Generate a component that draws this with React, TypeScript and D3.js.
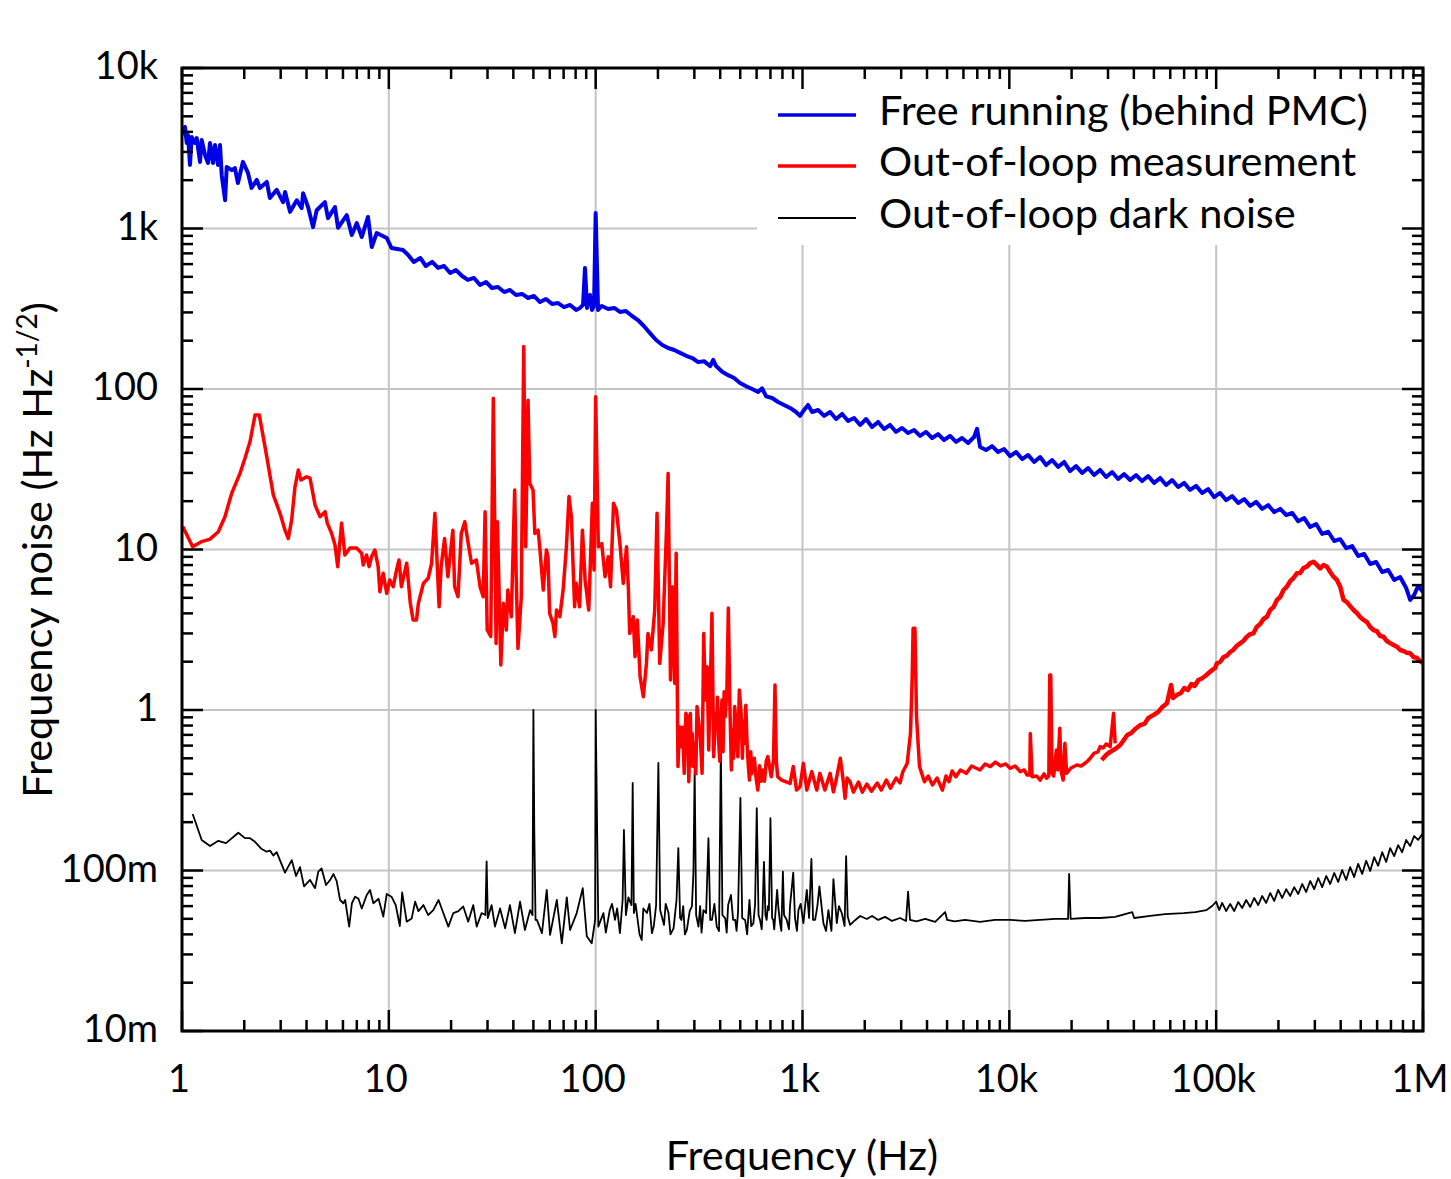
import React from 'react';
import * as d3 from 'd3';

type P = [number, number];

const xTickValues = [1, 10, 100, 1e3, 1e4, 1e5, 1e6];
const xTickLabels = ['1', '10', '100', '1k', '10k', '100k', '1M'];
const yTickValues = [0.01, 0.1, 1, 10, 100, 1e3, 1e4];
const yTickLabels = ['10m', '100m', '1', '10', '100', '1k', '10k'];
const legendLabels = ['Free running (behind PMC)', 'Out-of-loop measurement', 'Out-of-loop dark noise'];
const seriesColors = ['#0000e6', '#ff0000', '#000000'];

const freeRunning: P[] = [
  [1.0, 3830], [1.034, 4290], [1.054, 3410], [1.069, 3830], [1.093, 2490], [1.114, 3720], [1.156, 3410], [1.178, 3660],
  [1.222, 2600], [1.245, 3560], [1.292, 2870], [1.336, 2560], [1.366, 3410], [1.412, 2560], [1.444, 3310], [1.493, 2490],
  [1.527, 3310], [1.556, 2150], [1.616, 1500], [1.645, 2420], [1.739, 2310], [1.802, 2380], [1.864, 1920], [1.97, 2600],
  [2.085, 2220], [2.17, 1790], [2.3, 2010], [2.38, 1790], [2.57, 1950], [2.66, 1550], [2.87, 1740], [3.08, 1460],
  [3.15, 1690], [3.33, 1270], [3.59, 1500], [3.79, 1340], [3.85, 1660], [4.07, 1360], [4.3, 1020], [4.48, 1300],
  [4.91, 1460], [5.08, 1160], [5.49, 1360], [5.68, 1010], [6.26, 1210], [6.62, 911], [7.0, 1080], [7.4, 885],
  [7.93, 1180], [8.27, 767], [8.74, 937], [9.77, 873], [10.3, 756], [11.7, 735], [12.4, 684],
  [13.2, 619], [14.2, 655], [15.1, 584], [16.2, 619], [17.3, 568], [18.5, 584], [19.8, 528], [21.1, 551],
  [22.6, 506], [24.1, 478], [25.8, 492], [27.6, 445], [29.5, 464], [31.5, 426], [33.7, 432], [36.1, 402],
  [38.5, 414], [41.2, 385], [44.1, 391], [47.1, 369], [50.3, 380], [53.8, 348], [57.5, 364], [61.5, 339],
  [65.8, 343], [70.3, 324], [75.2, 334], [80.4, 311], [84.0, 320], [86.9, 334], [88.8, 568], [90.8, 320],
  [93.9, 385], [96.0, 311], [98.2, 329], [100, 1249], [102.7, 311], [107, 329], [115, 315], [123, 320],
  [131, 302], [140, 306], [150, 285], [160, 269], [171, 247], [183, 223], [196, 202], [210, 188],
  [224, 180], [240, 175], [256, 168], [274, 161], [293, 156], [313, 147], [334, 149], [358, 139],
  [370, 152], [382, 139], [409, 128], [437, 122], [467, 117], [499, 109], [534, 104], [571, 100],
  [610, 95.8], [638, 101], [667, 89.9], [713, 87.9], [762, 83.0], [814, 79.5], [871, 76.2], [931, 71.9],
  [973, 68.0], [1018, 74.0], [1064, 79.5], [1113, 71.9], [1190, 74.0], [1272, 68.0], [1360, 71.9], [1454, 65.0],
  [1554, 69.9], [1661, 63.2], [1776, 66.0], [1899, 59.7], [2030, 65.0], [2170, 58.0], [2320, 62.3], [2480, 56.3],
  [2651, 59.7], [2834, 54.0], [3030, 57.2], [3239, 53.2], [3463, 55.5], [3702, 51.0], [3958, 54.0], [4231, 49.5],
  [4523, 52.4], [4836, 48.1], [5170, 51.0], [5527, 46.8], [5908, 49.5], [6316, 46.1], [6753, 50.2], [6983, 56.5],
  [7220, 43.5], [7718, 41.7], [8251, 44.1], [8821, 40.5], [9430, 42.3], [10090, 38.2], [10790, 40.5], [11530, 36.6],
  [12330, 38.8], [13180, 35.1], [14090, 37.7], [15060, 33.6], [16100, 36.1], [17220, 32.7], [18410, 35.1], [19680, 30.8],
  [21040, 33.1], [22490, 30.0], [24040, 32.2], [25700, 29.1], [27480, 31.3], [29380, 28.3], [31410, 30.4], [33580, 27.5],
  [35900, 29.5], [38380, 27.1], [41030, 29.1], [43860, 26.7], [46890, 28.7], [50130, 26.0], [53600, 27.9], [57300, 25.2],
  [61260, 27.1], [65490, 24.5], [70010, 26.0], [74850, 23.5], [80020, 24.9], [85550, 22.5], [91460, 23.8], [97770, 21.2],
  [104500, 22.5], [111800, 20.3], [119500, 21.5], [127800, 19.5], [136600, 20.6], [146100, 18.7], [156100, 19.8], [166900, 17.9],
  [178500, 18.9], [190800, 17.1], [204000, 17.9], [218100, 16.4], [233200, 16.9], [249300, 15.0], [266500, 15.7], [284900, 13.8],
  [304500, 14.4], [325600, 12.5], [348100, 12.9], [372100, 11.3], [397800, 11.6], [425200, 10.2], [454600, 10.5], [486000, 9.11],
  [519600, 9.38], [555500, 8.12], [593700, 8.36], [634800, 7.24], [678600, 7.45], [725500, 6.46], [775600, 6.74], [829000, 5.76],
  [866700, 4.85], [906000, 5.21], [947000, 5.92], [1000000, 5.44],
];

const outOfLoopLow: P[] = [
  [1.008, 13.9], [1.126, 10.4], [1.245, 11.2], [1.366, 11.6], [1.498, 12.9], [1.613, 16.0], [1.739, 22.4], [1.907, 29.8],
  [2.016, 37.0], [2.132, 46.9], [2.254, 68.8], [2.365, 68.8], [2.569, 37.9], [2.763, 21.9], [2.978, 16.8], [3.148, 13.2],
  [3.266, 11.7], [3.39, 15.3], [3.518, 24.6], [3.65, 31.3], [3.76, 27.1], [4.0, 28.4], [4.16, 27.8], [4.4, 18.9],
  [4.65, 16.0], [4.92, 17.2], [5.04, 14.6], [5.29, 12.6], [5.49, 10.7], [5.66, 7.82], [5.91, 14.6], [6.13, 9.24],
  [6.48, 10.2], [6.99, 10.2], [7.39, 9.48], [7.52, 8.01], [7.8, 9.24], [8.03, 7.82], [8.25, 9.0], [8.56, 9.93],
  [8.88, 7.82], [9.05, 5.46], [9.39, 7.11], [9.77, 5.33], [10.1, 6.46], [10.5, 5.87], [10.9, 7.45], [11.2, 8.6],
  [11.5, 5.87], [12.2, 8.21], [12.7, 4.63], [13.1, 3.64], [13.6, 3.64], [13.9, 4.63], [14.7, 6.16], [15.5, 6.62],
  [16.1, 8.21], [16.7, 16.8], [17.5, 4.4], [17.9, 7.82], [18.6, 11.7], [19.3, 6.77], [20.4, 13.2], [20.8, 5.87],
  [21.6, 5.08], [22.4, 12.6], [23.3, 14.9], [24.2, 10.9], [25.1, 8.21], [26.5, 8.6], [27.6, 5.87], [28.6, 5.08],
  [29.2, 17.2], [29.9, 3.15], [31.1, 2.87], [32.0, 87.6], [33.0, 2.6], [33.5, 14.9], [34.8, 1.91], [35.8, 4.63],
  [37.0, 3.15], [37.6, 5.59], [39.1, 3.81], [40.6, 23.5], [41.3, 6.77], [42.1, 2.42], [43.7, 5.08], [44.9, 184],
  [45.9, 10.4], [47.1, 85.1], [48.0, 25.9], [49.8, 23.5], [50.8, 12.6], [52.7, 13.2], [53.8, 9.93], [55.8, 5.59],
  [57.8, 9.93], [58.8, 9.0], [59.9, 4.0], [62.2, 3.47], [63.5, 2.87], [64.7, 4.2], [67.1, 3.81], [69.6, 5.59],
  [72.2, 10.4], [74.3, 21.4], [76.3, 16.0], [77.6, 8.6], [79.1, 4.4], [80.6, 6.16], [83.6, 4.4], [86.3, 13.2],
  [88.9, 6.46], [92.6, 4.2], [96.4, 19.4], [98.2, 7.45], [100, 89.6], [103, 10.4], [107, 10.9], [111, 6.77],
  [115, 9.0], [118, 5.87], [122, 19.4], [126, 17.6], [131, 10.9], [136, 6.16], [141, 10.4], [144, 5.59],
  [146, 3.0], [152, 3.81], [155, 2.15], [159, 3.64], [164, 1.61], [170, 1.21], [176, 1.95], [179, 3.0],
  [186, 2.37], [193, 4.2], [198, 16.8], [204, 1.95], [212, 3.47], [220, 13.2], [224, 29.8], [230, 1.54],
  [235, 5.87], [241, 1.47], [245, 9.48], [250, 0.444], [254, 0.787], [259, 0.591], [263, 0.78], [268, 0.403],
  [273, 0.953], [278, 0.91], [282, 0.357], [287, 0.95], [290, 0.45], [293, 0.714], [298, 0.444], [302, 0.62],
  [305, 0.4], [309, 1.05], [315, 0.827], [321, 0.65], [327, 0.403], [333, 3.0], [339, 1.154], [346, 1.86],
  [352, 0.563], [359, 1.54], [365, 4.0], [372, 0.512], [380, 0.953], [384, 0.783], [388, 1.2], [393, 0.65],
  [398, 0.48], [403, 0.85], [408, 1.154], [413, 0.55], [418, 1.3], [423, 0.91], [431, 1.33], [438, 4.32],
  [445, 1.154], [453, 0.423], [458, 0.75], [464, 0.5], [470, 1.05], [476, 0.85], [481, 0.6], [487, 0.512],
  [495, 1.33], [505, 0.953], [512, 0.5], [518, 0.85], [524, 0.62], [532, 1.07], [540, 0.6], [547, 0.45],
  [554, 0.366], [562, 0.55], [568, 0.4], [575, 0.444], [585, 0.5], [596, 0.38], [608, 0.317], [620, 0.45],
  [632, 0.36], [643, 0.423], [655, 0.36], [668, 0.48], [680, 0.512], [706, 0.384], [724, 0.488], [736, 1.43],
  [747, 0.488], [758, 0.384], [793, 0.366], [871, 0.349], [902, 0.444], [936, 0.317], [973, 0.333], [1010, 0.465],
  [1049, 0.317], [1109, 0.413], [1172, 0.317], [1213, 0.403], [1283, 0.317], [1360, 0.403], [1411, 0.309], [1461, 0.377],
  [1523, 0.5], [1551, 0.423], [1578, 0.349], [1606, 0.282], [1642, 0.377], [1699, 0.357], [1762, 0.308], [1865, 0.356],
  [1946, 0.308], [2046, 0.346], [2156, 0.312], [2297, 0.351], [2405, 0.317], [2543, 0.366], [2663, 0.326], [2836, 0.377],
  [2960, 0.351], [3052, 0.411], [3207, 0.465], [3327, 0.714], [3389, 1.54], [3426, 3.23], [3496, 3.23], [3559, 0.91],
  [3626, 0.605], [3680, 0.444], [3887, 0.357], [4055, 0.388], [4249, 0.341], [4475, 0.377], [4745, 0.317], [4943, 0.388],
  [5108, 0.357], [5290, 0.417], [5515, 0.384], [5800, 0.423], [6191, 0.403], [6571, 0.448], [7220, 0.423], [7645, 0.461],
  [8090, 0.444], [8572, 0.474], [9077, 0.448], [9608, 0.461], [10090, 0.433], [10670, 0.448], [11290, 0.413], [11800, 0.423],
  [12170, 0.394], [12560, 0.394], [12630, 0.714], [12890, 0.384], [13570, 0.388], [14090, 0.366], [14720, 0.4], [15130, 0.376],
  [15520, 0.388], [15680, 1.65], [15860, 1.65], [16080, 0.403], [16390, 0.388], [16890, 0.563], [17140, 0.423], [17530, 0.769],
  [17830, 0.411], [18210, 0.366], [18560, 0.62], [18920, 0.403], [19850, 0.435], [21180, 0.454], [22240, 0.448], [23740, 0.476],
  [24660, 0.502], [25640, 0.537], [26780, 0.548], [27480, 0.591], [28420, 0.58], [29380, 0.614], [30720, 0.591], [31900, 0.953],
  [32480, 0.62],
];

const outOfLoopHigh: P[] = [
  [27960, 0.488], [29380, 0.525], [30720, 0.548], [32480, 0.571], [34380, 0.605], [37180, 0.698], [38870, 0.719], [40630, 0.762],
  [43010, 0.807], [44970, 0.819], [47000, 0.891], [49870, 0.932], [52500, 0.974], [54900, 1.044], [57850, 1.101], [60550, 1.431],
  [61830, 1.188], [64400, 1.24], [67500, 1.276], [70160, 1.371], [72960, 1.332], [75940, 1.452], [78640, 1.411], [82010, 1.538],
  [85550, 1.576], [88510, 1.628], [91990, 1.7], [95650, 1.775], [98950, 1.827], [100800, 1.954], [104500, 1.991], [108600, 2.139],
  [112200, 2.171], [117000, 2.298], [120900, 2.365], [125600, 2.504], [130500, 2.6], [135300, 2.69], [140300, 2.85], [146100, 2.97],
  [151300, 3.0], [156900, 3.29], [163200, 3.43], [169300, 3.69], [176000, 3.81], [182500, 4.2], [189500, 4.38], [196800, 4.85],
  [204000, 5.06], [211700, 5.59], [219800, 5.87], [228000, 6.36], [236600, 6.64], [245600, 7.11], [254800, 7.14], [264400, 7.67],
  [274400, 7.82], [284900, 8.23], [295500, 8.39], [306700, 8.01], [318400, 7.63], [330400, 8.01], [342900, 7.82], [355900, 7.24],
  [369300, 6.77], [383300, 6.46], [397800, 5.87], [412900, 4.85], [428500, 4.7], [444600, 4.44], [461500, 4.2], [479100, 4.02],
  [497100, 3.79], [515900, 3.64], [535500, 3.53], [555500, 3.29], [576600, 3.15], [598400, 3.1], [620600, 2.89], [644000, 2.86],
  [668600, 2.69], [693900, 2.61], [720100, 2.54], [747400, 2.48], [775600, 2.365], [804900, 2.33], [835400, 2.27], [866700, 2.26],
  [899500, 2.139], [933600, 2.11], [968400, 2.02], [1000000, 1.954],
];

const darkNoise: P[] = [
  [1.126, 0.225], [1.245, 0.155], [1.366, 0.142], [1.498, 0.153], [1.632, 0.148], [1.872, 0.172], [2.016, 0.159], [2.132, 0.159],
  [2.254, 0.151], [2.428, 0.136], [2.568, 0.131], [2.664, 0.133], [2.764, 0.124], [2.869, 0.13], [3.148, 0.097], [3.393, 0.116],
  [3.56, 0.0924], [3.72, 0.105], [3.89, 0.0796], [4.16, 0.0873], [4.4, 0.0776], [4.56, 0.0985], [4.73, 0.103], [4.97, 0.0812],
  [5.2, 0.0873], [5.4, 0.0951], [5.6, 0.0855], [5.81, 0.0655], [6.03, 0.0625], [6.15, 0.0655], [6.43, 0.0447], [6.63, 0.0625],
  [6.87, 0.0687], [7.13, 0.0667], [7.4, 0.058], [7.82, 0.0704], [8.11, 0.0757], [8.42, 0.0625], [8.92, 0.0667], [9.4, 0.0516],
  [9.77, 0.0714], [10.3, 0.0687], [10.8, 0.0609], [11.3, 0.0451], [11.6, 0.073], [12.2, 0.048], [12.9, 0.0503], [13.4, 0.064],
  [13.9, 0.0558], [14.7, 0.0609], [15.5, 0.0528], [16.4, 0.0567], [17.4, 0.0655], [18.3, 0.0547], [19.4, 0.0447], [20.5, 0.0543],
  [21.7, 0.0558], [22.9, 0.0597], [24.2, 0.048], [25.6, 0.0609], [26.6, 0.0447], [28.1, 0.0543], [29.3, 0.0528], [29.7, 0.114],
  [30.1, 0.0506], [31.4, 0.0609], [32.6, 0.0447], [34.5, 0.058], [36.5, 0.0436], [38.5, 0.0609], [40.7, 0.0407], [43.1, 0.064],
  [45.5, 0.0426], [48.2, 0.0567], [49.5, 0.0528], [50.0, 1.0], [50.5, 0.179], [51.2, 0.0492], [52.0, 0.0492], [55.0, 0.0407],
  [58.0, 0.0757], [60.2, 0.0397], [64.9, 0.0655], [68.6, 0.0352], [72.5, 0.068], [75.2, 0.0426], [81.0, 0.0543], [86.6, 0.0776],
  [90.6, 0.0389], [95.7, 0.0352], [99.4, 0.0492], [100, 1.0], [103, 0.0447], [109, 0.0543], [112, 0.041], [117, 0.0567],
  [120, 0.062], [124, 0.0492], [127, 0.058], [131, 0.0407], [135, 0.0655], [137, 0.179], [140, 0.0528], [144, 0.068],
  [149, 0.0609], [151, 0.351], [153, 0.0543], [156, 0.062], [160, 0.0478], [163, 0.04], [167, 0.0369], [170, 0.058],
  [177, 0.0543], [182, 0.062], [187, 0.0407], [191, 0.045], [196, 0.0609], [201, 0.468], [205, 0.0567], [214, 0.0458],
  [218, 0.062], [225, 0.0543], [230, 0.04], [238, 0.0436], [246, 0.0655], [251, 0.138], [256, 0.0506], [260, 0.0492],
  [265, 0.06], [270, 0.04], [276, 0.0426], [285, 0.056], [292, 0.0597], [297, 0.098], [301, 0.429], [306, 0.0528],
  [314, 0.0447], [320, 0.06], [325, 0.041], [332, 0.0567], [342, 0.0543], [351, 0.159], [358, 0.0492], [365, 0.0492],
  [375, 0.062], [385, 0.0447], [395, 0.042], [403, 0.597], [410, 0.0528], [423, 0.0503], [430, 0.041], [437, 0.0609],
  [451, 0.0704], [462, 0.0492], [473, 0.0492], [480, 0.042], [488, 0.0551], [501, 0.283], [511, 0.0506], [528, 0.0492],
  [540, 0.04], [554, 0.0655], [565, 0.045], [579, 0.047], [590, 0.062], [601, 0.245], [613, 0.0528], [623, 0.0492],
  [635, 0.043], [641, 0.0551], [651, 0.113], [662, 0.0528], [671, 0.0492], [680, 0.06], [688, 0.0567], [700, 0.212],
  [713, 0.0506], [722, 0.0492], [730, 0.043], [754, 0.0757], [765, 0.058], [779, 0.047], [790, 0.042], [804, 0.0985],
  [814, 0.0528], [839, 0.0492], [860, 0.043], [871, 0.0609], [902, 0.097], [920, 0.0506], [940, 0.042], [956, 0.0567],
  [980, 0.062], [1010, 0.047], [1049, 0.0757], [1076, 0.0506], [1104, 0.118], [1125, 0.0492], [1151, 0.0492], [1180, 0.06],
  [1207, 0.0796], [1262, 0.047], [1300, 0.042], [1334, 0.0567], [1380, 0.042], [1411, 0.0884], [1465, 0.047], [1500, 0.06],
  [1549, 0.0543], [1598, 0.0451], [1625, 0.123], [1654, 0.0516], [1699, 0.0458], [1802, 0.0492], [1899, 0.0521], [2046, 0.0499],
  [2170, 0.0521], [2325, 0.0492], [2508, 0.0514], [2713, 0.0485], [2960, 0.0506], [3168, 0.0485], [3239, 0.0739], [3311, 0.0492],
  [3554, 0.0482], [3919, 0.0499], [4379, 0.0478], [4893, 0.0551], [5006, 0.0492], [5441, 0.0482], [6111, 0.0492], [7220, 0.0478],
  [8533, 0.0492], [10070, 0.0492], [11920, 0.0485], [14090, 0.0492], [16650, 0.0499], [19230, 0.0499], [19460, 0.0951], [19790, 0.0499],
  [23250, 0.0506], [27480, 0.0506], [32480, 0.0514], [39280, 0.0551], [40150, 0.0506], [47950, 0.0521], [56680, 0.0535], [69620, 0.0543],
  [79110, 0.0551], [89840, 0.0567], [95650, 0.0601], [100000, 0.064], [103400, 0.0567], [106900, 0.0628], [111800, 0.0559], [116900, 0.0618],
  [122200, 0.0559], [127800, 0.0636], [133600, 0.0584], [139700, 0.0655], [146100, 0.0593], [152700, 0.0674], [159700, 0.0609], [166900, 0.0694],
  [174500, 0.0628], [182500, 0.0724], [190800, 0.0646], [199500, 0.0757], [208600, 0.0674], [218100, 0.0765], [228000, 0.0694], [238400, 0.0788],
  [249300, 0.0714], [260600, 0.0824], [272500, 0.0734], [284900, 0.086], [297900, 0.0765], [311500, 0.0898], [325600, 0.0788], [340400, 0.0924],
  [355900, 0.0824], [372100, 0.0965], [389000, 0.0848], [406700, 0.1007], [425200, 0.0873], [444600, 0.105], [464800, 0.091], [486000, 0.11],
  [508100, 0.0951], [531200, 0.115], [555500, 0.0993], [580700, 0.121], [607100, 0.107], [634800, 0.13], [663700, 0.113], [693900, 0.138],
  [725500, 0.123], [758500, 0.144], [793000, 0.13], [829000, 0.155], [866700, 0.142], [906000, 0.164], [947000, 0.155], [1000000, 0.171],
];

const FONT = "Lato, 'Open Sans', sans-serif";

export default function App() {
  const L = 182, R = 1423, T = 68, B = 1031;
  const x = d3.scaleLog().domain([1, 1e6]).range([L, R]);
  const y = d3.scaleLog().domain([0.01, 1e4]).range([B, T]);
  const line = d3.line<P>().x(d => x(d[0])).y(d => y(d[1]));

  const xMinor: number[] = [];
  for (let e = 0; e < 6; e++) for (let m = 2; m <= 9; m++) xMinor.push(m * Math.pow(10, e));
  const yMinor: number[] = [];
  for (let e = -2; e < 4; e++) for (let m = 2; m <= 9; m++) yMinor.push(m * Math.pow(10, e));

  const gridX = xTickValues.slice(1, -1);
  const gridY = yTickValues.slice(1, -1);
  const MAJ = 21, MIN = 11;
  const legendY = [115, 166, 218];
  const legendW = [3.5, 3.5, 1.8];

  return (
    <svg width={1451} height={1179} style={{ position: 'absolute', left: 0, top: 0, background: '#fff' }}
      fontFamily={FONT}>
      <defs>
        <clipPath id="plot"><rect x={L} y={T} width={R - L} height={B - T} /></clipPath>
      </defs>
      <rect x={0} y={0} width={1451} height={1179} fill="#fff" />
      {gridX.map(v => <line key={'gx' + v} x1={x(v)} x2={x(v)} y1={T} y2={B} stroke="#c4c4c4" strokeWidth={2} />)}
      {gridY.map(v => <line key={'gy' + v} x1={L} x2={R} y1={y(v)} y2={y(v)} stroke="#c4c4c4" strokeWidth={2} />)}
      <rect x={757} y={70} width={664} height={175} fill="#fff" />
      <g clipPath="url(#plot)" fill="none" strokeLinejoin="round">
        <path d={line(darkNoise) || ''} stroke={seriesColors[2]} strokeWidth={1.8} />
        <path d={line(outOfLoopLow) || ''} stroke={seriesColors[1]} strokeWidth={3.5} />
        <path d={line(outOfLoopHigh) || ''} stroke={seriesColors[1]} strokeWidth={4.5} />
        <path d={line(freeRunning) || ''} stroke={seriesColors[0]} strokeWidth={4} />
      </g>
      {legendLabels.map((t, i) => (
        <g key={t}>
          <line x1={778} x2={856} y1={legendY[i]} y2={legendY[i]} stroke={seriesColors[i]} strokeWidth={legendW[i]} />
          <text x={879} y={legendY[i] + 10} fontSize={41.5} fill="#000">{t}</text>
        </g>
      ))}
      <g stroke="#000" strokeWidth={2.5}>
        {xTickValues.map(v => (
          <g key={'xt' + v}>
            <line x1={x(v)} x2={x(v)} y1={B} y2={B - MAJ} />
            <line x1={x(v)} x2={x(v)} y1={T} y2={T + MAJ} />
          </g>
        ))}
        {xMinor.map(v => (
          <g key={'xm' + v}>
            <line x1={x(v)} x2={x(v)} y1={B} y2={B - MIN} />
            <line x1={x(v)} x2={x(v)} y1={T} y2={T + MIN} />
          </g>
        ))}
        {yTickValues.map(v => (
          <g key={'yt' + v}>
            <line x1={L} x2={L + MAJ} y1={y(v)} y2={y(v)} />
            <line x1={R} x2={R - MAJ} y1={y(v)} y2={y(v)} />
          </g>
        ))}
        {yMinor.map(v => (
          <g key={'ym' + v}>
            <line x1={L} x2={L + MIN} y1={y(v)} y2={y(v)} />
            <line x1={R} x2={R - MIN} y1={y(v)} y2={y(v)} />
          </g>
        ))}
        <rect x={L} y={T} width={R - L} height={B - T} fill="none" strokeWidth={3} />
      </g>
      {xTickValues.map((v, i) => (
        <text key={'xl' + v} x={x(v) - 3} y={1092} fontSize={38} textAnchor="middle">{xTickLabels[i]}</text>
      ))}
      {yTickValues.map((v, i) => (
        <text key={'yl' + v} x={158} y={y(v) + 11} fontSize={38} textAnchor="end">{yTickLabels[i]}</text>
      ))}
      <text x={802} y={1170} fontSize={41.5} textAnchor="middle">Frequency (Hz)</text>
      <text transform="translate(52,550) rotate(-90)" fontSize={41.5} textAnchor="middle">
        Frequency noise (Hz Hz<tspan fontSize={28} dy={-15}>-1/2</tspan><tspan dy={15}>)</tspan>
      </text>
    </svg>
  );
}
